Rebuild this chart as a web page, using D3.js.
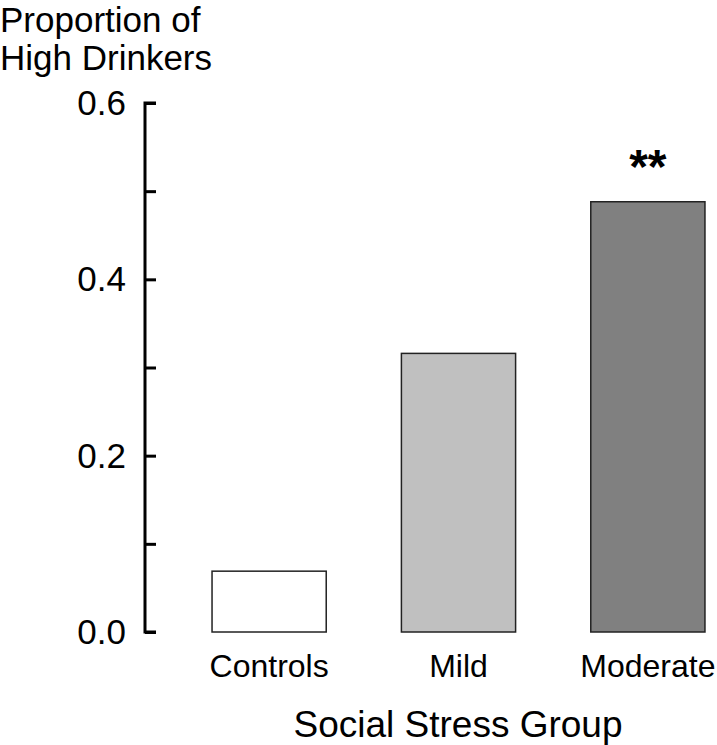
<!DOCTYPE html>
<html><head><meta charset="utf-8">
<script src="https://cdn.jsdelivr.net/npm/d3@7"></script>
<style>body{margin:0;background:#fff}svg{display:block}text{font-family:"Liberation Sans",Arial,sans-serif;fill:#000}</style>
</head><body><svg id="c" width="717" height="745"></svg>
<script>
const categories = ["Controls", "Mild", "Moderate"];
const values = [0.069, 0.316, 0.488];
const colors = ["#ffffff", "#c0c0c0", "#808080"];
const tickValues = [0, 0.1, 0.2, 0.3, 0.4, 0.5, 0.6];
const tickLabels = ["0.0", "", "0.2", "", "0.4", "", "0.6"];
const annotations = ["", "", "**"];

const svg = d3.select("#c");
const y = d3.scaleLinear().domain([0, 0.6]).range([632, 103]);
const x = d3.scaleBand().domain(categories).range([145, 772]).paddingInner(0.397).paddingOuter(0.354);

svg.selectAll("rect.bar").data(categories).enter().append("rect")
  .attr("class", "bar")
  .attr("x", d => x(d)).attr("width", x.bandwidth())
  .attr("y", (d, i) => y(values[i])).attr("height", (d, i) => y(0) - y(values[i]))
  .attr("fill", (d, i) => colors[i]).attr("stroke", "#222").attr("stroke-width", 1.5);

const yAxis = d3.axisRight(y).tickValues(tickValues).tickSize(11).tickFormat("");
const g = svg.append("g").attr("transform", "translate(145,0)").call(yAxis);
g.select(".domain").attr("stroke", "#000").attr("stroke-width", 3).attr("d", `M11,${y(0.6)}H0V${y(0)}H11`);
g.selectAll(".tick line").attr("stroke", "#000").attr("stroke-width", 3);

svg.selectAll("text.ytl").data(tickValues).enter().append("text")
  .attr("class", "ytl").attr("x", 126).attr("y", d => y(d) + 12)
  .attr("text-anchor", "end").attr("font-size", 35)
  .text((d, i) => tickLabels[i]);

svg.selectAll("text.xl").data(categories).enter().append("text")
  .attr("x", d => x(d) + x.bandwidth() / 2).attr("y", 677)
  .attr("text-anchor", "middle").attr("font-size", 32).text(d => d);

svg.selectAll("text.ann").data(categories).enter().append("text")
  .attr("x", d => x(d) + x.bandwidth() / 2).attr("y", (d, i) => y(values[i]) - 19)
  .attr("text-anchor", "middle").attr("font-size", 48).attr("font-weight", "bold")
  .text((d, i) => annotations[i]);

svg.append("text").attr("x", 458).attr("y", 737).attr("text-anchor", "middle")
  .attr("font-size", 37).text("Social Stress Group");
svg.append("text").attr("x", 0).attr("y", 32).attr("font-size", 35).text("Proportion of");
svg.append("text").attr("x", 0).attr("y", 70).attr("font-size", 35).text("High Drinkers");
</script></body></html>
